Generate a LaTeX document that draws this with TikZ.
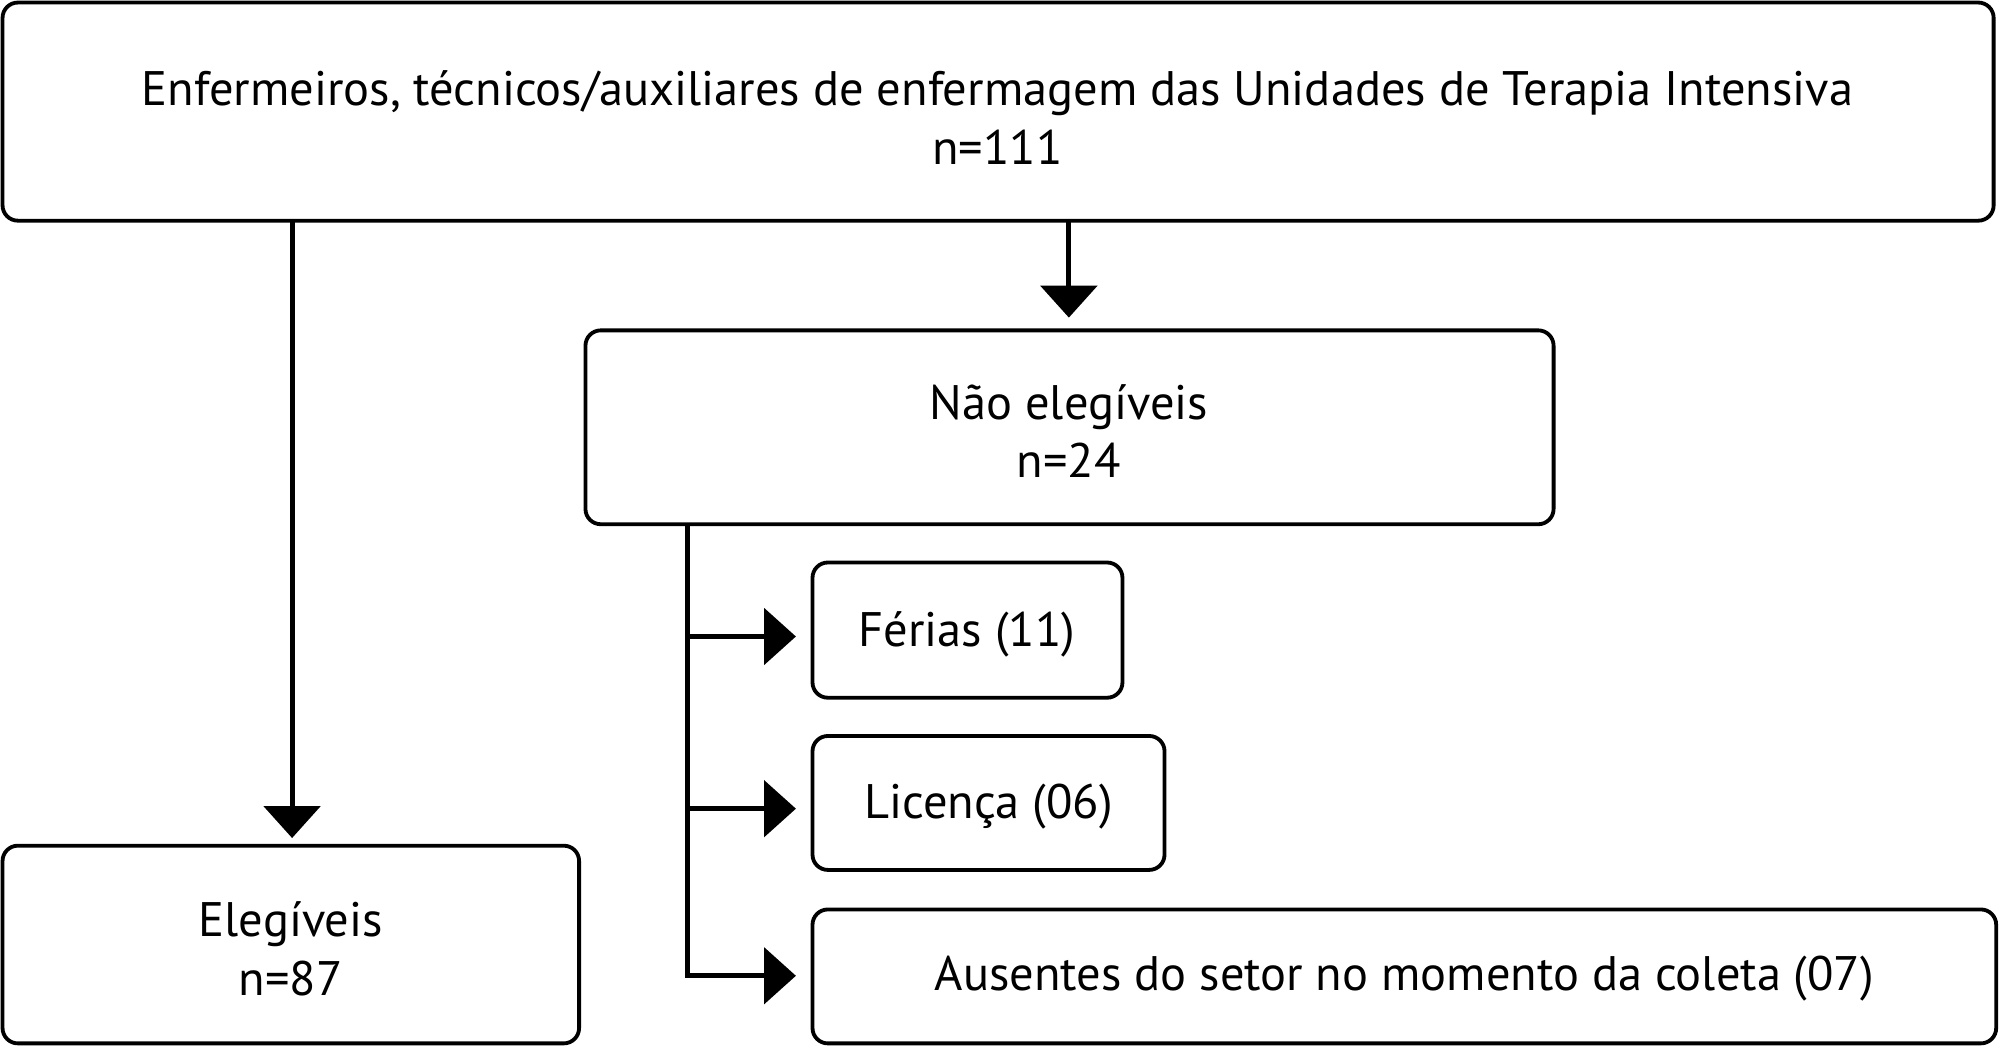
\documentclass[tikz,border=0pt]{standalone}
\usepackage{fontspec}
\setmainfont{PT Sans}
\usetikzlibrary{arrows.meta}
\begin{document}
\begin{tikzpicture}[x=1pt,y=-1pt,
  box/.style={draw,line width=3pt,rounded corners=12pt},
  lbl/.style={font=\fontsize{38}{46}\selectfont,align=center},
  conn/.style={line width=4pt,-{Triangle[width=44pt,length=25pt]}}]
\useasboundingbox (0,0) rectangle (1568,820);
\draw[box] (2,2) rectangle (1563,173);
\node[lbl] (top) at (782,92) {Enfermeiros, técnicos/auxiliares de enfermagem das Unidades de Terapia Intensiva\\n=111};
\draw[box] (459,259) rectangle (1218,411);
\node[lbl] (ne) at (838,338) {Não elegíveis\\n=24};
\draw[box] (2,663) rectangle (454,818);
\node[lbl] (el) at (228,744) {Elegíveis\\n=87};
\draw[box] (637,441) rectangle (880,547);
\node[lbl] (fe) at (758,497) {Férias (11)};
\draw[box] (637,577) rectangle (913,682);
\node[lbl] (li) at (775,632) {Licença (06)};
\draw[box] (637,713) rectangle (1565,818);
\node[lbl] (au) at (1101,767) {Ausentes do setor no momento da coleta (07)};
\coordinate (t1) at (838,173); \coordinate (t1e) at (838,249);
\coordinate (t2) at (229,173); \coordinate (t2e) at (229,657);
\draw[conn] (t1) -- (t1e);
\draw[conn] (t2) -- (t2e);
\coordinate (v0) at (539,411); \coordinate (v1) at (539,765);
\draw[line width=4pt] (v0) -- (539,767);
\draw[conn] (537,499) -- (624,499);
\draw[conn] (537,634) -- (624,634);
\draw[conn] (537,765) -- (624,765);
\end{tikzpicture}
\end{document}
